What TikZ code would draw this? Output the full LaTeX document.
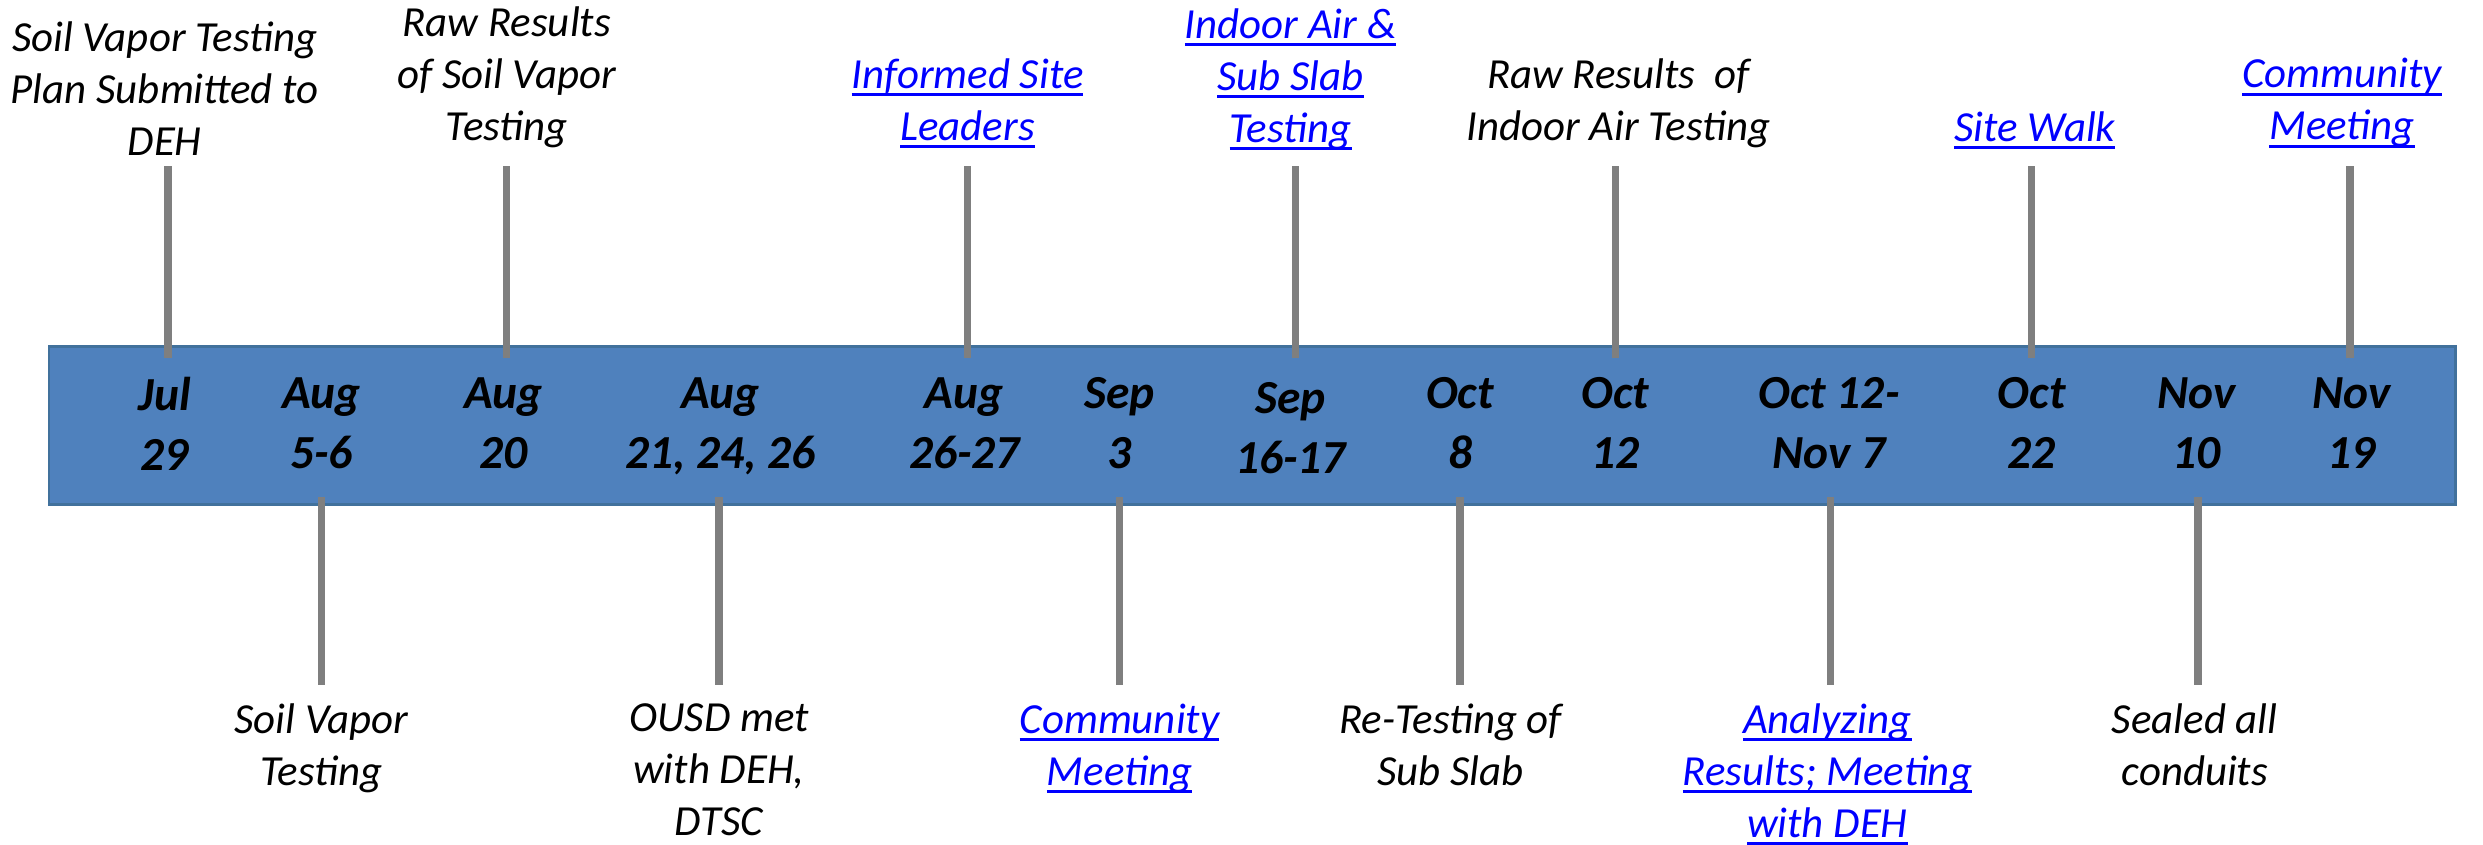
\documentclass[tikz,border=0pt]{standalone}
\usepackage{fontspec}
\setmainfont{Carlito}
\definecolor{barblue}{HTML}{4F81BD}
\definecolor{baredge}{HTML}{41719C}
\definecolor{linkblue}{HTML}{0000FF}
\definecolor{stemgray}{HTML}{7F7F7F}
\newcommand{\lnk}[1]{\textcolor{linkblue}{\setbox0\hbox{#1}\rlap{\vrule width\wd0 height -1.3pt depth 2.2pt}\box0}}
\tikzset{
  eventlbl/.style={font=\fontsize{12.2}{14.8}\selectfont\itshape, align=center, inner sep=0pt, anchor=north,
    execute at begin node=\rule{0pt}{9.5pt}},
  datelbl/.style={font=\fontsize{13.5}{17}\selectfont\bfseries\itshape, align=center, inner sep=0pt, anchor=north,
    execute at begin node=\rule{0pt}{10.5pt}},
  upstem/.style={draw=stemgray, line width=2.1pt, shorten >=-3.5pt},
  downstem/.style={draw=stemgray, line width=2.1pt, shorten >=-2.6pt},
  barbox/.style={fill=barblue, draw=baredge, line width=0.8pt}
}
\begin{document}
\begin{tikzpicture}[x=0.015835cm, y=-0.015835cm]
  \useasboundingbox (0,0) rectangle (1568,533);
  % the bar
  \node[barbox, anchor=north west, minimum width=24.07cm, minimum height=1.58cm] (bar) at (30,218) {};
  % dates
  \node[datelbl] (jul29) at (104,238) {Jul\\29};
  \node[datelbl] (aug56) at (203,238) {Aug\\5-6};
  \node[datelbl] (aug20) at (318,238) {Aug\\20};
  \node[datelbl] (aug21) at (455,238) {Aug\\21, 24, 26};
  \node[datelbl] (aug26) at (609,238) {Aug\\26-27};
  \node[datelbl] (sep3) at (707,238) {Sep\\3};
  \node[datelbl] (sep16) at (815,241) {Sep\\16-17};
  \node[datelbl] (oct8) at (922,238) {Oct\\8};
  \node[datelbl] (oct12) at (1020,238) {Oct\\12};
  \node[datelbl] (octnov) at (1155,238) {Oct 12-\\Nov 7};
  \node[datelbl] (oct22) at (1283,238) {Oct\\22};
  \node[datelbl] (nov10) at (1387,238) {Nov\\10};
  \node[datelbl] (nov19) at (1485,238) {Nov\\19};
  % events above
  \node[eventlbl] (plan) at (104,13) {Soil Vapor Testing\\Plan Submitted to\\DEH};
  \node[eventlbl] (rawsoil) at (320,3.5) {Raw Results\\of Soil Vapor\\Testing};
  \node[eventlbl] (leaders) at (611,36.5) {\lnk{Informed Site}\\\lnk{Leaders}};
  \node[eventlbl] (indoor) at (815,5) {\lnk{Indoor Air \&}\\\lnk{Sub Slab}\\\lnk{Testing}};
  \node[eventlbl] (rawair) at (1022,36.5) {Raw Results~ of\\Indoor Air Testing};
  \node[eventlbl] (walk) at (1285,68) {\lnk{Site Walk}};
  \node[eventlbl] (meet2) at (1479,36.5) {\lnk{Community}\\\lnk{Meeting}};
  % events below
  \node[eventlbl] (soiltest) at (203,444) {Soil Vapor\\Testing};
  \node[eventlbl] (ousd) at (454,444) {OUSD met\\with DEH,\\DTSC};
  \node[eventlbl] (meet1) at (707,444) {\lnk{Community}\\\lnk{Meeting}};
  \node[eventlbl] (retest) at (916,444) {Re-Testing of\\Sub Slab};
  \node[eventlbl] (analyze) at (1154,444) {\lnk{Analyzing}\\\lnk{Results; Meeting}\\\lnk{with DEH}};
  \node[eventlbl] (sealed) at (1386,444) {Sealed all\\conduits};
  % stems above
  \coordinate (s-plan) at (106,105);
  \coordinate (s-rawsoil) at (320,105);
  \coordinate (s-leaders) at (611,105);
  \coordinate (s-indoor) at (818,105);
  \coordinate (s-rawair) at (1020,105);
  \coordinate (s-walk) at (1283,105);
  \coordinate (s-meet2) at (1484,105);
  \draw[upstem] (s-plan) -- (s-plan |- bar.north);
  \draw[upstem] (s-rawsoil) -- (s-rawsoil |- bar.north);
  \draw[upstem] (s-leaders) -- (s-leaders |- bar.north);
  \draw[upstem] (s-indoor) -- (s-indoor |- bar.north);
  \draw[upstem] (s-rawair) -- (s-rawair |- bar.north);
  \draw[upstem] (s-walk) -- (s-walk |- bar.north);
  \draw[upstem] (s-meet2) -- (s-meet2 |- bar.north);
  % stems below
  \coordinate (s-soiltest) at (203,432.5);
  \coordinate (s-ousd) at (454,432.5);
  \coordinate (s-meet1) at (707,432.5);
  \coordinate (s-retest) at (922,432.5);
  \coordinate (s-analyze) at (1156,432.5);
  \coordinate (s-sealed) at (1388,432.5);
  \draw[downstem] (s-soiltest) -- (s-soiltest |- bar.south);
  \draw[downstem] (s-ousd) -- (s-ousd |- bar.south);
  \draw[downstem] (s-meet1) -- (s-meet1 |- bar.south);
  \draw[downstem] (s-retest) -- (s-retest |- bar.south);
  \draw[downstem] (s-analyze) -- (s-analyze |- bar.south);
  \draw[downstem] (s-sealed) -- (s-sealed |- bar.south);
\end{tikzpicture}
\end{document}
